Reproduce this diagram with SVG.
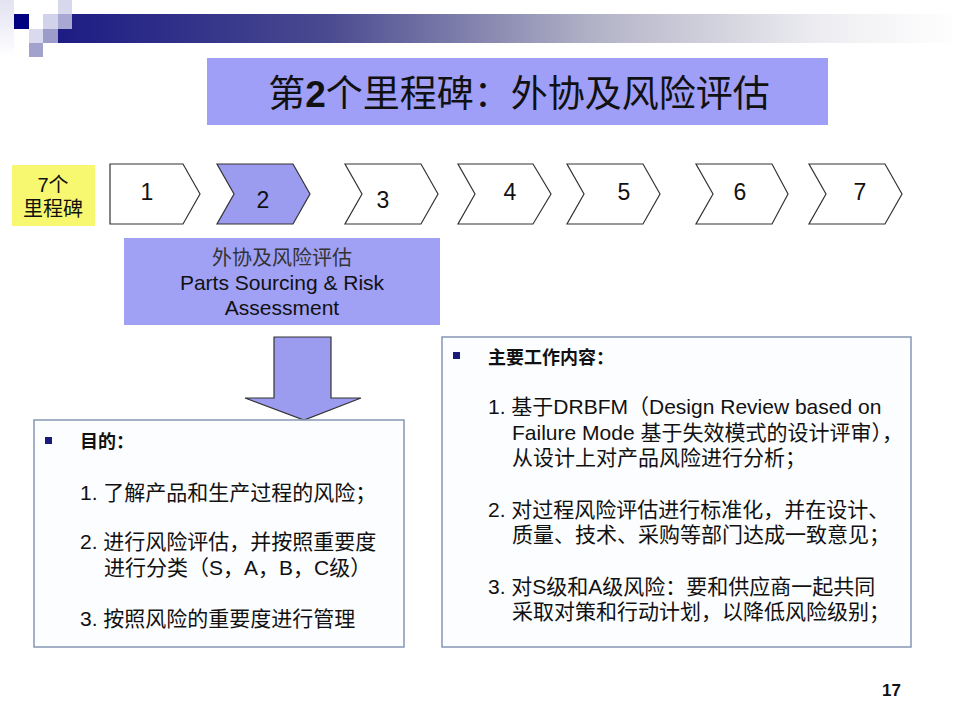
<svg xmlns="http://www.w3.org/2000/svg" width="960" height="720" viewBox="0 0 960 720">
<defs>
<linearGradient id="bar" x1="0" y1="0" x2="1" y2="0">
<stop offset="0" stop-color="#1c1c84"/>
<stop offset="0.3" stop-color="#4a4a90"/>
<stop offset="0.6" stop-color="#b4b4c8"/>
<stop offset="0.85" stop-color="#eeeef2"/>
<stop offset="1" stop-color="#ffffff"/>
</linearGradient>
<linearGradient id="strip" x1="0" y1="0" x2="0" y2="1">
<stop offset="0" stop-color="#e2e2f2"/>
<stop offset="1" stop-color="#ffffff"/>
</linearGradient>
<style>
.t{font-family:"Liberation Sans","Noto Sans CJK SC",sans-serif;fill:#111}
.num{font-size:23px;text-anchor:middle}
.body{font-size:21px}
.chev{fill:#ffffff;stroke:#333;stroke-width:1.2}
.box{fill:#fcfdff;stroke:#8796b4;stroke-width:1.5}
.bul{fill:#1a1a7a}
</style>
</defs>
<rect width="960" height="720" fill="#ffffff"/>
<g id="header">
<rect x="0" y="0" width="14" height="57" fill="url(#strip)"/>
<rect x="58" y="14" width="902" height="29" fill="url(#bar)"/>
<rect x="58" y="0" width="14" height="14" fill="#d8d8ec"/>
<rect x="14" y="14" width="15" height="15" fill="#000080"/>
<rect x="43" y="14" width="15" height="15" fill="#d2d2ea"/>
<rect x="58" y="14" width="14" height="15" fill="#a8a8d2"/>
<rect x="29" y="29" width="14" height="14" fill="#dadaee"/>
<rect x="43" y="29" width="15" height="14" fill="#9c9cca"/>
<rect x="29" y="43" width="14" height="14" fill="#a2a2cc"/>
</g>
<g id="title">
<rect x="207" y="58" width="621" height="67" fill="#9f9ff7"/>
<text class="t" x="519" y="107" font-size="37" text-anchor="middle">第<tspan font-weight="bold">2</tspan>个里程碑：外协及风险评估</text>
</g>
<g id="label7">
<rect x="12" y="165" width="83" height="61" fill="#f8f870"/>
<text class="t" x="53" y="192" font-size="20" text-anchor="middle">7个</text>
<text class="t" x="53" y="216" font-size="20" text-anchor="middle">里程碑</text>
</g>
<g id="step1">
<polygon class="chev" points="110,164 183,164 200,194 183,224 110,224"/>
<text class="t num" x="147" y="200">1</text>
</g>
<g id="step2">
<polygon class="chev" points="217,164 293,164 310,194 293,224 217,224 234,194" style="fill:#9b9bf0"/>
<text class="t num" x="263" y="208">2</text>
</g>
<g id="step3">
<polygon class="chev" points="345,164 421,164 438,194 421,224 345,224 362,194"/>
<text class="t num" x="383" y="208">3</text>
</g>
<g id="step4">
<polygon class="chev" points="458,164 533,164 551,194 533,224 458,224 475,194"/>
<text class="t num" x="510" y="200">4</text>
</g>
<g id="step5">
<polygon class="chev" points="567,164 643,164 660,194 643,224 567,224 584,194"/>
<text class="t num" x="624" y="200">5</text>
</g>
<g id="step6">
<polygon class="chev" points="696,164 772,164 788,194 772,224 696,224 713,194"/>
<text class="t num" x="740" y="200">6</text>
</g>
<g id="step7">
<polygon class="chev" points="809,164 885,164 902,194 885,224 809,224 826,194"/>
<text class="t num" x="860" y="200">7</text>
</g>
<g id="phase">
<rect x="124" y="238" width="316" height="87" fill="#a0a0f5"/>
<text class="t" x="282" y="265" font-size="20" text-anchor="middle" style="fill:#333">外协及风险评估</text>
<text class="t" x="282" y="290" font-size="21" text-anchor="middle">Parts Sourcing &amp; Risk</text>
<text class="t" x="282" y="315" font-size="21" text-anchor="middle">Assessment</text>
</g>
<g id="connectors">
<polygon points="274,337 331,337 331,398 361,398 304,420 245,398 274,398" fill="#9b9bf0" stroke="#333" stroke-width="1.2"/>
</g>
<g id="purpose">
<rect class="box" x="34" y="420" width="370" height="227"/>
<rect class="bul" x="45" y="437" width="7" height="7"/>
<text class="t" x="80" y="448" font-size="18" font-weight="bold">目的：</text>
<text class="t body" x="80" y="500">1. 了解产品和生产过程的风险；</text>
<text class="t body" x="80" y="549">2. 进行风险评估，并按照重要度</text>
<text class="t body" x="104" y="575">进行分类（S，A，B，C级）</text>
<text class="t body" x="80" y="626">3. 按照风险的重要度进行管理</text>
</g>
<g id="work">
<rect class="box" x="442" y="337" width="469" height="310"/>
<rect class="bul" x="453" y="352" width="7" height="7"/>
<text class="t" x="488" y="364" font-size="18" font-weight="bold">主要工作内容：</text>
<text class="t body" x="488" y="414">1. 基于DRBFM（Design Review based on</text>
<text class="t body" x="512" y="440">Failure Mode 基于失效模式的设计评审），</text>
<text class="t body" x="512" y="465">从设计上对产品风险进行分析；</text>
<text class="t body" x="488" y="517">2. 对过程风险评估进行标准化，并在设计、</text>
<text class="t body" x="512" y="542">质量、技术、采购等部门达成一致意见；</text>
<text class="t body" x="488" y="594">3. 对S级和A级风险：要和供应商一起共同</text>
<text class="t body" x="512" y="619">采取对策和行动计划，以降低风险级别；</text>
</g>
<g id="pagenum">
<text class="t" x="882" y="696" font-size="17" font-weight="bold">17</text>
</g>
</svg>
